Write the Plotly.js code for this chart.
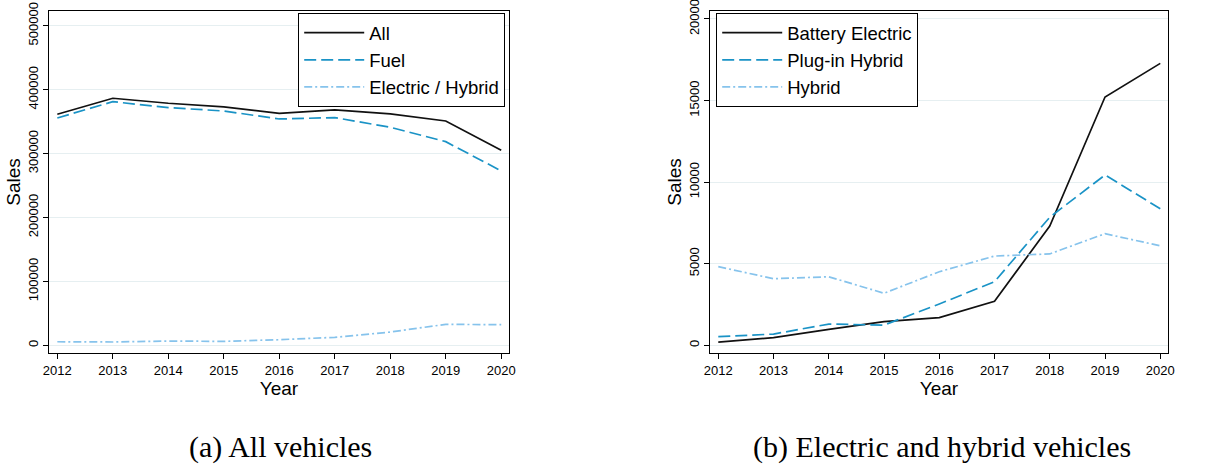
<!DOCTYPE html>
<html>
<head>
<meta charset="utf-8">
<script src="https://cdn.plot.ly/plotly-3.0.1.min.js"></script>
<style>html,body{margin:0;padding:0;background:#fff;}#chart{width:1232px;height:466px;}</style>
</head>
<body>
<div id="chart"></div>
<script>
const years = [2012, 2013, 2014, 2015, 2016, 2017, 2018, 2019, 2020];

// Panel (a): all vehicles
const allSales = [361500, 386500, 378700, 373000, 363000, 368200, 362000, 351000, 305000];
const fuelSales = [355700, 381200, 371800, 366600, 354100, 356200, 341200, 318600, 272800];
const elecHybridSales = [5600, 5200, 6700, 6200, 8800, 12500, 20800, 32800, 32300];

// Panel (b): electric and hybrid vehicles
const batteryElectric = [200, 470, 980, 1450, 1700, 2700, 7310, 15220, 17280];
const pluginHybrid = [530, 690, 1300, 1240, 2530, 3900, 7850, 10440, 8370];
const hybrid = [4820, 4080, 4200, 3190, 4510, 5470, 5600, 6840, 6100];

const yTicksA = [0, 100000, 200000, 300000, 400000, 500000];
const yTicksB = [0, 5000, 10000, 15000, 20000];
const captions = ['(a) All vehicles', '(b) Electric and hybrid vehicles'];

const BLACK = '#111111', MID = '#1a93c6', LIGHT = '#86c3ec';
const SANS = 'Liberation Sans, Arial, sans-serif';
const dashLong = '12px,5px';
const dashDot = '8px,3px,2px,3px';

function tr(y, name, color, dash, xa, ya, leg) {
  return {x: years, y: y, name: name, type: 'scatter', mode: 'lines',
    line: {color: color, width: 1.7, dash: dash}, xaxis: xa, yaxis: ya, legend: leg};
}

const data = [
  tr(allSales, 'All', BLACK, 'solid', 'x', 'y', 'legend'),
  tr(fuelSales, 'Fuel', MID, dashLong, 'x', 'y', 'legend'),
  tr(elecHybridSales, 'Electric / Hybrid', LIGHT, dashDot, 'x', 'y', 'legend'),
  tr(batteryElectric, 'Battery Electric', BLACK, 'solid', 'x2', 'y2', 'legend2'),
  tr(pluginHybrid, 'Plug-in Hybrid', MID, dashLong, 'x2', 'y2', 'legend2'),
  tr(hybrid, 'Hybrid', LIGHT, dashDot, 'x2', 'y2', 'legend2')
];

function xax(domain, anchor) {
  return {domain: domain, anchor: anchor, range: [2011.85, 2020.14],
    tickmode: 'array', tickvals: years, ticktext: years.map(String),
    ticks: 'outside', ticklen: 5, tickcolor: '#000', tickwidth: 1,
    showline: true, linecolor: '#000', linewidth: 1.2, mirror: true,
    showgrid: false, zeroline: false, ticklabeloverflow: 'allow',
    tickfont: {family: SANS, size: 13, color: '#000'},
    title: {text: 'Year', font: {family: SANS, size: 19, color: '#000'}, standoff: 2}};
}
function yax(domain, anchor, range, ticks) {
  return {domain: domain, anchor: anchor, range: range,
    tickmode: 'array', tickvals: ticks, ticktext: ticks.map(String), tickangle: -90,
    ticks: 'outside', ticklen: 5, tickcolor: '#000', tickwidth: 1,
    showline: true, linecolor: '#000', linewidth: 1.2, mirror: true,
    showgrid: true, gridcolor: '#e6eff1', gridwidth: 1, zeroline: false,
    ticklabeloverflow: 'allow',
    tickfont: {family: SANS, size: 13, color: '#000'},
    title: {text: 'Sales', font: {family: SANS, size: 19, color: '#000'}, standoff: 0}};
}

const yDom = [1 - 353/466, 1 - 11/466];
const layout = {
  width: 1232, height: 466,
  margin: {l: 0, r: 0, t: 0, b: 0},
  paper_bgcolor: '#fff', plot_bgcolor: '#fff',
  xaxis: xax([49/1232, 509/1232], 'y'),
  yaxis: yax(yDom, 'x', [-12000, 523000], yTicksA),
  xaxis2: xax([710/1232, 1168/1232], 'y2'),
  yaxis2: yax(yDom, 'x2', [-472, 20490], yTicksB),
  legend: {x: 505/1232, xanchor: 'right', y: 1 - 13/466, yanchor: 'top',
    bgcolor: '#fff', bordercolor: '#000', borderwidth: 1.2, itemwidth: 60,
    font: {family: SANS, size: 18.5, color: '#000'}},
  legend2: {x: 716/1232, xanchor: 'left', y: 1 - 13/466, yanchor: 'top',
    bgcolor: '#fff', bordercolor: '#000', borderwidth: 1.2, itemwidth: 60,
    font: {family: SANS, size: 18.5, color: '#000'}},
  showlegend: true,
  annotations: [
    {text: captions[0], xref: 'paper', yref: 'paper', x: 280/1232, y: 1 - 447/466,
      xanchor: 'center', yanchor: 'middle', showarrow: false,
      font: {family: 'Liberation Serif, Times New Roman, serif', size: 30, color: '#000'}},
    {text: captions[1], xref: 'paper', yref: 'paper', x: 942/1232, y: 1 - 447/466,
      xanchor: 'center', yanchor: 'middle', showarrow: false,
      font: {family: 'Liberation Serif, Times New Roman, serif', size: 30, color: '#000'}}
  ]
};

Plotly.newPlot('chart', data, layout, {staticPlot: true, displayModeBar: false});
</script>
</body>
</html>
